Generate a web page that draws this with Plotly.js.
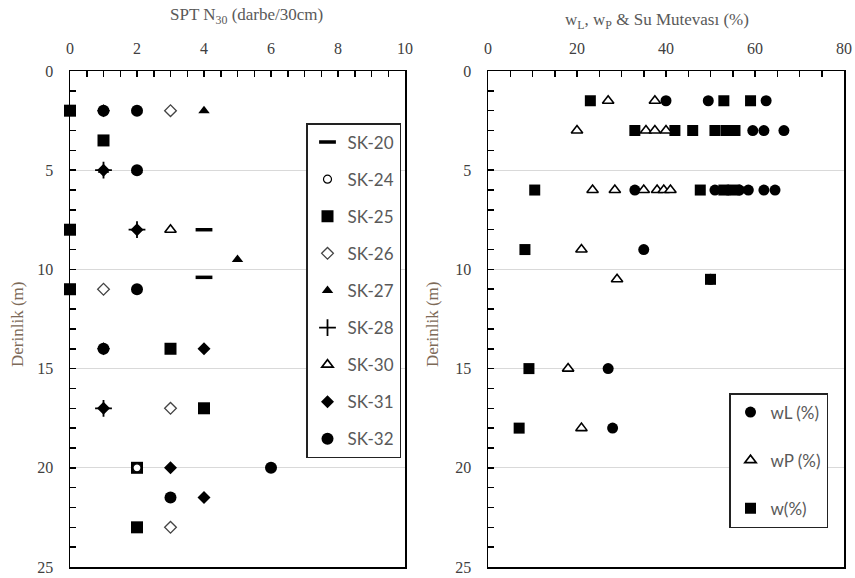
<!DOCTYPE html>
<html>
<head>
<meta charset="utf-8">
<script src="https://cdn.plot.ly/plotly-3.0.1.min.js"></script>
<style>html,body{margin:0;padding:0;background:#fff}#chart{width:855px;height:578px}</style>
</head>
<body>
<div id="chart"></div>
<script>
// ---- Left chart: SPT N30 vs depth ----
const sk20_N = [4, 4];                 const sk20_D = [8, 10.4];
const sk24_N = [2];                    const sk24_D = [20];
const sk25_N = [0, 1, 0, 0, 3, 4, 2, 2]; const sk25_D = [2, 3.5, 8, 11, 14, 17, 20, 23];
const sk26_N = [3, 1, 3, 3];           const sk26_D = [2, 11, 17, 23];
const sk27_N = [4, 2, 1, 2, 5];        const sk27_D = [2, 2, 5, 5, 9.5];
const sk28_N = [1, 2, 1];              const sk28_D = [5, 8, 17];
const sk30_N = [3];                    const sk30_D = [8];
const sk31_N = [1, 1, 2, 1, 4, 1, 3, 4]; const sk31_D = [2, 5, 8, 14, 14, 17, 20, 21.5];
const sk32_N = [1, 2, 2, 2, 1, 6, 3];  const sk32_D = [2, 2, 5, 11, 14, 20, 21.5];

// ---- Right chart: wL, wP, w vs depth ----
const wL_val = [40, 49.5, 62.5, 59.5, 62, 66.5, 33, 51, 54, 56.5, 58.5, 62, 64.5, 35, 50, 27, 28];
const wL_dep = [1.5, 1.5, 1.5, 3, 3, 3, 6, 6, 6, 6, 6, 6, 6, 9, 10.5, 15, 18];
const wP_val = [27, 37.5, 20, 35.5, 37.5, 40, 23.5, 28.5, 35, 38, 39.5, 41, 21, 29, 18, 21];
const wP_dep = [1.5, 1.5, 3, 3, 3, 3, 6, 6, 6, 6, 6, 6, 9, 10.5, 15, 18];
const w_val  = [23, 53, 59, 33, 42, 46, 51, 53.5, 55.5, 10.5, 47.7, 53, 55.5, 8.3, 50, 9.2, 7];
const w_dep  = [1.5, 1.5, 1.5, 3, 3, 3, 3, 3, 3, 6, 6, 6, 6, 9, 10.5, 15, 18];

const BLK = '#000000';
function tr(name, x, y, marker, rank, legend, xa, ya) {
  return {type: 'scatter', mode: 'markers', name: name, x: x, y: y, marker: marker,
    legendgroup: name, legendrank: rank, legend: legend, xaxis: xa, yaxis: ya,
    cliponaxis: false, hoverinfo: 'x+y+name'};
}
const data = [
  tr('SK-20', sk20_N, sk20_D, {symbol: 'line-ew', size: 12, line: {width: 3.5, color: BLK}}, 1, 'legend', 'x', 'y'),
  tr('SK-25', sk25_N, sk25_D, {symbol: 'square', size: 12, color: BLK}, 3, 'legend', 'x', 'y'),
  tr('SK-24', sk24_N, sk24_D, {symbol: 'circle', size: 8, color: '#fff', line: {width: 1.2, color: BLK}}, 2, 'legend', 'x', 'y'),
  tr('SK-26', sk26_N, sk26_D, {symbol: 'diamond', size: 9, color: '#fff', line: {width: 1.3, color: '#444'}}, 4, 'legend', 'x', 'y'),
  tr('SK-27', sk27_N, sk27_D, {symbol: 'triangle-up', size: 10, color: BLK}, 5, 'legend', 'x', 'y'),
  tr('SK-28', sk28_N, sk28_D, {symbol: 'cross-thin', size: 12, line: {width: 1.8, color: BLK}}, 6, 'legend', 'x', 'y'),
  tr('SK-30', sk30_N, sk30_D, {symbol: 'triangle-up', size: 10, color: '#fff', line: {width: 1.6, color: BLK}}, 7, 'legend', 'x', 'y'),
  tr('SK-31', sk31_N, sk31_D, {symbol: 'diamond', size: 10, color: BLK}, 8, 'legend', 'x', 'y'),
  tr('SK-32', sk32_N, sk32_D, {symbol: 'circle', size: 12, color: BLK}, 9, 'legend', 'x', 'y'),

  tr('w(%)', w_val, w_dep, {symbol: 'square', size: 11, color: BLK}, 3, 'legend2', 'x2', 'y2'),
  tr('wL (%)', wL_val, wL_dep, {symbol: 'circle', size: 11, color: BLK}, 1, 'legend2', 'x2', 'y2'),
  tr('wP (%)', wP_val, wP_dep, {symbol: 'triangle-up', size: 10, color: '#fff', line: {width: 1.6, color: BLK}}, 2, 'legend2', 'x2', 'y2')
];

const tickFont = {family: 'Liberation Serif, serif', size: 16, color: '#404040'};
const gridCol = '#d9d9d9';
const yTop = 1 - 71 / 578, yBot = 1 - 567 / 578;

function xAxis(dom, range, dtick, minor, anchor) {
  return {domain: dom, range: range, side: 'top', anchor: anchor, dtick: dtick,
    ticks: 'inside', ticklen: 6, tickwidth: 1.5, tickcolor: '#000',
    minor: {dtick: minor, ticks: 'inside', ticklen: 6, tickwidth: 1.5, tickcolor: '#000', showgrid: false},
    showline: true, linecolor: '#000', linewidth: 1.5, mirror: true,
    showgrid: false, zeroline: false, tickfont: tickFont, ticklabelstandoff: 9, fixedrange: true};
}
function yAxis(dom, anchor) {
  return {domain: dom, range: [25, 0], anchor: anchor, dtick: 5,
    ticks: 'inside', ticklen: 6, tickwidth: 1.5, tickcolor: '#000',
    minor: {dtick: 1, ticks: 'inside', ticklen: 6, tickwidth: 1.5, tickcolor: '#000', showgrid: false},
    showline: true, linecolor: '#000', linewidth: 1.5, mirror: true,
    showgrid: true, gridcolor: gridCol, gridwidth: 1.2, zeroline: false,
    tickfont: tickFont, ticklabelstandoff: 12, fixedrange: true};
}

const titleFont = {family: 'Liberation Serif, serif', size: 17, color: '#595959'};
const legFont = {family: 'Lato, sans-serif', size: 17, color: '#595959'};

const layout = {
  width: 855, height: 578,
  margin: {l: 0, r: 0, t: 0, b: 0},
  paper_bgcolor: '#fff', plot_bgcolor: '#fff',
  showlegend: true,
  xaxis: xAxis([70 / 855, 405 / 855], [0, 10], 2, 0.5, 'y'),
  yaxis: yAxis([yBot, yTop], 'x'),
  xaxis2: xAxis([488 / 855, 844 / 855], [0, 80], 20, 5, 'y2'),
  yaxis2: yAxis([yBot, yTop], 'x2'),
  legend: {x: 306 / 855, y: 1 - 123 / 578, xanchor: 'left', yanchor: 'top',
    bgcolor: '#fff', bordercolor: '#222', borderwidth: 1.5, font: legFont,
    traceorder: 'grouped', tracegroupgap: 12, itemwidth: 30},
  legend2: {x: 729 / 855, y: 1 - 393 / 578, xanchor: 'left', yanchor: 'top',
    bgcolor: '#fff', bordercolor: '#222', borderwidth: 1.5, font: legFont,
    traceorder: 'grouped', tracegroupgap: 23, itemwidth: 30},
  annotations: [
    {text: 'SPT N<sub>30</sub> (darbe/30cm)', xref: 'paper', yref: 'paper', x: 247 / 855, y: 1 - 16 / 578,
      xanchor: 'center', yanchor: 'middle', showarrow: false, font: titleFont},
    {text: 'w<sub>L</sub>, w<sub>P</sub> &amp; Su Mutevası (%)', xref: 'paper', yref: 'paper', x: 657 / 855, y: 1 - 21 / 578,
      xanchor: 'center', yanchor: 'middle', showarrow: false, font: titleFont},
    {text: 'Derinlik (m)', xref: 'paper', yref: 'paper', x: 17 / 855, y: 1 - 325 / 578, textangle: -90,
      xanchor: 'center', yanchor: 'middle', showarrow: false, font: {family: 'Liberation Serif, serif', size: 17, color: '#7d6a58'}},
    {text: 'Derinlik (m)', xref: 'paper', yref: 'paper', x: 432 / 855, y: 1 - 325 / 578, textangle: -90,
      xanchor: 'center', yanchor: 'middle', showarrow: false, font: {family: 'Liberation Serif, serif', size: 17, color: '#7d6a58'}}
  ]
};

Plotly.newPlot('chart', data, layout, {displayModeBar: false, staticPlot: true});
</script>
</body>
</html>
